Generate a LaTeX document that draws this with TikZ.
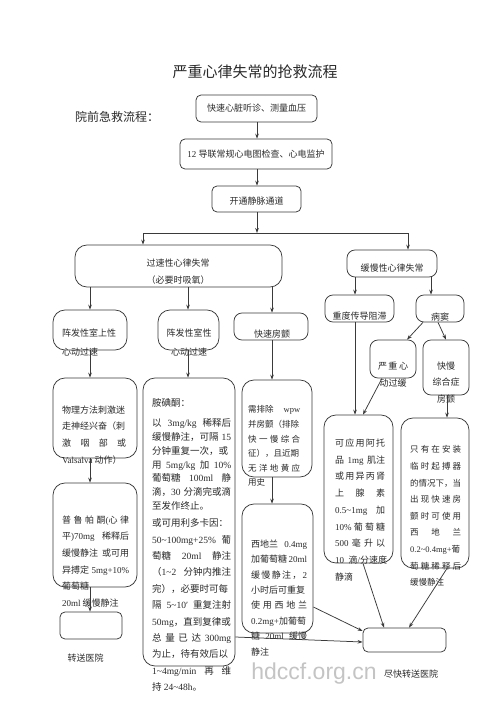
\documentclass[tikz,border=0pt]{standalone}
\usepackage{fontspec}
\setmainfont{Noto Sans CJK SC}
\newfontfamily\latf{Liberation Serif}
\newfontfamily\wmf{Liberation Sans}
\usetikzlibrary{arrows.meta}
\definecolor{linec}{HTML}{3A3A3A}
\definecolor{txtc}{HTML}{2A2A2A}
\definecolor{wmc}{HTML}{C4C4C4}
\newcommand\fs[2]{\fontsize{#1}{#2}\selectfont}
\newcommand\EN[1]{{\latf #1}}
\newcommand\tld{\textasciitilde}
\newcommand\J[2]{\makebox[#1pt][s]{\spaceskip=0pt plus 1fil\xspaceskip=0pt plus 1fil\relax #2}}
\newcommand\bx[6]{\node[#2, minimum width={#5-#3}, minimum height={#6-#4}] (#1) at ({(#3+#5)/2},{(#4+#6)/2}) {};}
\begin{document}
\begin{tikzpicture}[x=1pt,y=-1pt]
\tikzset{
 box/.style={draw=linec, line width=0.75pt, rounded corners=5pt, inner sep=0pt},
 mbox/.style={box, rounded corners=8pt},
 bbox/.style={box, rounded corners=12pt},
 txt/.style={inner sep=0pt, text=txtc, font=\fs{9}{11}},
 blk/.style={txt, anchor=north west, align=left},
 arr/.style={draw=linec, line width=0.75pt, -{Stealth[length=5pt,width=3.6pt]}},
 ln/.style={draw=linec, line width=0.75pt},
}
\useasboundingbox (0,0) rectangle (500,707);
\fill[white] (0,0) rectangle (500,707);

% watermark
\node[inner sep=0pt, text=wmc, font=\wmf\fontsize{23}{23}\selectfont] (wm) at (314,674) {hdccf.org.cn};

% titles
\node[txt, font=\fs{15}{18}] (title) at (255,72) {严重心律失常的抢救流程};
\node[txt, font=\fs{12}{14}] (pre) at (117,117) {院前急救流程：};

% boxes
\bx{b1}{box}{196}{95}{317}{122}
\node[txt] (t1) at (b1) {快速心脏听诊、测量血压};
\bx{b2}{box}{180}{139}{332}{169}
\node[txt] (t2) at (b2) {\EN{12} 导联常规心电图检查、心电监护};
\bx{b3}{box}{212}{186}{301}{212}
\node[txt] (t3) at ([yshift=-2pt]b3) {开通静脉通道};

\bx{tach}{bbox}{75}{245}{282}{287}
\node[txt, align=center, font=\fs{9}{17}] (ttach) at (178,271.5) {过速性心律失常\\（必要时吸氧）};
\bx{brady}{mbox}{347}{250}{437}{277}
\node[txt] (tbrady) at (392,268) {缓慢性心律失常};

\bx{svt}{bbox}{53}{310}{127}{350}
\node[blk, font=\fs{9}{19}] (tsvt) at (62,328.5) {阵发性室上性\\心动过速};
\bx{vt}{bbox}{158}{310}{219}{350}
\node[txt, anchor=north, align=center, font=\fs{9}{19}] (tvt) at (189,328.5) {阵发性室性\\心动过速};
\bx{af}{mbox}{234}{313}{308}{340}
\node[txt] (taf) at (272,334.5) {快速房颤};
\bx{avb}{mbox}{325}{295}{394}{322}
\node[txt] (tavb) at (359.5,316) {重度传导阻滞};
\bx{sss}{mbox}{416}{295}{464}{322}
\node[txt] (tsss) at (440,317) {病窦};
\bx{sb}{mbox}{370}{340}{416}{378}
\node[txt, anchor=north, align=center, font=\fs{9}{17}] (tsb) at (393,361.5) {严\,重\,心\\动过缓};
\bx{tbs}{mbox}{423}{340}{469}{395}
\node[txt, anchor=north, align=center, font=\fs{9}{16.5}] (ttbs) at (446,361.5) {快慢\\综合症\\房颤};

\bx{phys}{bbox}{53}{378}{137}{458}
\node[blk, font=\fs{9}{16.6}] (tphys) at (62,405.5) {物理方法刺激迷\\走神经兴奋（刺\\\J{64}{激 咽 部 或}\\\EN{Valsalva} 动作）};

\bx{prop}{bbox}{53}{483}{137}{587}
\node[blk, font=\fs{9}{16.6}] (tprop) at (62,515.5) {\J{67}{普 鲁 帕 酮\EN{(}心 律}\\\J{67}{平\EN{)70mg} 稀释后}\\\J{67}{缓慢静注 或可用}\\\J{67}{异搏定 \EN{5mg+10\%}}\\葡萄糖\\\EN{20ml} 缓慢静注};

\bx{tl}{box}{60}{612}{122}{639}
\node[txt] (ttl) at (85.5,658) {转送医院};

\bx{amio}{bbox}{143}{378}{235}{666}
\node[blk, font=\fs{9.5}{14}] (tamioA) at (152,398.5) {胺碘酮：};
\node[blk, font=\fs{9.5}{13.8}] (tamioB) at (152,418.5) {\J{79}{以 \EN{3mg/kg} 稀释后}\\\J{79}{缓慢静注，可隔 \EN{15}}\\分钟重复一次，或\\\J{79}{用 \EN{5mg/kg} 加 \EN{10\%}}\\\J{79}{葡萄糖 \EN{100ml} 静}\\\J{79}{滴，\EN{30} 分滴完或滴}\\至发作终止。};
\node[blk, font=\fs{9.5}{16.4}] (tamioC) at (152,518.5) {或可用利多卡因：\\\J{79}{\EN{50\tld100mg+25\%} 葡}\\\J{79}{萄糖 \EN{20ml} 静注}\\\J{79}{（\EN{1\tld2} 分钟内推注}\\完），必要时可每\\\J{79}{隔 \EN{5\tld10′} 重复注射}\\\EN{50mg}，直到复律或\\\J{79}{总 量 已 达 \EN{300mg}}\\为止，待有效后以\\\J{79}{\EN{1\tld4mg/min} 再 维}\\持 \EN{24\tld48h}。};

\bx{wpw}{bbox}{242}{380}{312}{477}
\node[blk, font=\fs{8.5}{14.6}] (twpw) at (248,405.5) {\J{52}{需排除 \EN{wpw}}\\并房颤（排除\\\J{52}{快 一 慢 综 合}\\征），且近期\\\J{52}{无 洋 地 黄 应}\\用史};

\bx{cedi}{bbox}{242}{504}{313}{633}
\node[blk, font=\fs{9}{15.4}] (tcedi) at (251,539.5) {\J{56}{西地兰 \EN{0.4mg}}\\\J{56}{加葡萄糖 \EN{20ml}}\\\J{56}{缓 慢 静 注 ， \EN{2}}\\小时后可重复\\\J{56}{使 用 西 地 兰}\\\EN{0.2mg+}加葡萄\\\J{56}{糖 \EN{20ml} 缓慢}\\静注};

\bx{atro}{bbox}{324}{415}{393}{563}
\node[blk, font=\fs{9}{16.75}] (tatro) at (335,438.5) {\J{50}{可 应 用 阿 托}\\\J{50}{品 \EN{1mg} 肌注}\\\J{50}{或 用 异 丙 肾}\\\J{50}{上 腺 素}\\\J{50}{\EN{0.5\tld1mg} 加}\\\J{50}{\EN{10\%} 葡 萄 糖}\\\J{50}{\EN{500} 毫 升 以}\\\J{52}{\EN{10} 滴\EN{/}分速度}\\静滴};

\bx{pace}{bbox}{401}{418}{469}{568}
\node[blk, font=\fs{8.5}{16.6}] (tpace) at (410,445.5) {\J{51}{只 有 在 安 装}\\\J{51}{临 时 起 搏 器}\\的情况下，当\\\J{51}{出 现 快 速 房}\\\J{51}{颤 时 可 使 用}\\\J{51}{西 地 兰}\\\EN{0.2\tld0.4mg+}葡\\\J{51}{萄 糖 稀 释 后}\\缓慢静注};

\bx{final}{box}{363}{628}{446}{652}
\node[txt] (tfinal) at (411,674) {尽快转送医院};

% column coordinates
\coordinate (c90) at (90,0);
\coordinate (c188) at (188,0);
\coordinate (c272) at (272,0);
\coordinate (c355) at (355,0);
\coordinate (c431) at (431,0);
\coordinate (c447) at (447,0);
\coordinate (c257) at (257,0);
\coordinate (jm) at (257,233);
\coordinate (jl) at (143,233);
\coordinate (jr) at (408,233);

% connectors
\draw[arr] (b1.south -| c257) -- (b2.north -| c257);
\draw[arr] (b2.south -| c257) -- (b3.north -| c257);
\draw[arr] (b3.south -| jm) -- (jm);
\draw[ln] (jl) -- (jr);
\draw[arr] (jl) -- (tach.north -| jl);
\draw[arr] (jr) -- (brady.north -| jr);
\draw[arr] (tach.south -| c90) -- (svt.north -| c90);
\draw[arr] (tach.south -| c188) -- (vt.north -| c188);
\draw[arr] (tach.south -| c272) -- (af.north -| c272);
\draw[arr] (brady.south -| c355) -- (avb.north -| c355);
\draw[arr] (brady.south -| c431) -- (sss.north -| c431);
\draw[arr] ([xshift=-17pt]sss.south) -- ([xshift=14pt]sb.north);
\draw[arr] ([xshift=-2pt]sss.south) -- (tbs.north);
\draw[arr] (svt.south -| c90) -- (phys.north -| c90);
\draw[arr] (vt.south -| c188) -- (amio.north -| c188);
\draw[arr] (af.south -| c272) -- (wpw.north -| c272);
\draw[arr] (avb.south -| c355) -- (atro.north -| c355);
\draw[arr] ([xshift=-11pt]sb.south) -- ([xshift=4.5pt]atro.north);
\draw[arr] (tbs.south -| c447) -- (pace.north -| c447);
\draw[arr] (phys.south -| c90) -- (prop.north -| c90);
\draw[arr] (wpw.south -| c272) -- (cedi.north -| c272);
\draw[arr] (prop.south -| c90) -- (tl.north -| c90);
\draw[arr] ([xshift=4.5pt]atro.south) -- ([xshift=-20.5pt]final.north);
\draw[arr] ([xshift=12pt]pace.south) -- ([xshift=4.5pt]final.north);
\draw[arr] ([yshift=-38.5pt]cedi.east) -- ([yshift=9pt]final.west);
\draw[arr] ([yshift=-115pt]amio.east) -- ([yshift=-2pt]final.west);
\end{tikzpicture}
\end{document}
